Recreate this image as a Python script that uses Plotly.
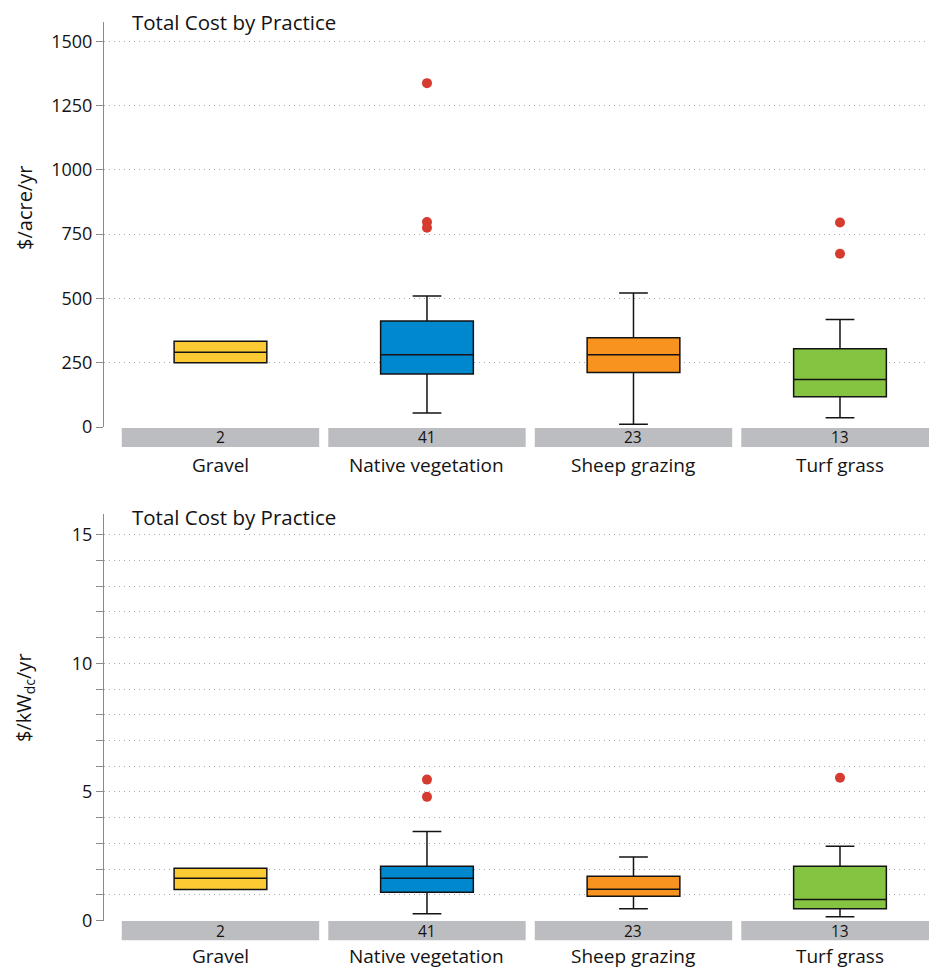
import plotly.graph_objects as go

# ---- data -------------------------------------------------------------
categories = ["Gravel", "Native vegetation", "Sheep grazing", "Turf grass"]
counts = [2, 41, 23, 13]
box_colors = ["#FCCB33", "#0088CE", "#F7931E", "#84C441"]

# $/acre/yr box statistics
acre_low = [250, 54, 11, 36]
acre_q1 = [250, 206, 212, 118]
acre_median = [291, 281, 281, 185]
acre_q3 = [333, 412, 347, 304]
acre_high = [333, 509, 521, 418]
acre_outlier_cat = ["Native vegetation", "Native vegetation", "Native vegetation", "Turf grass", "Turf grass"]
acre_outlier_val = [1337, 797, 775, 795, 674]

# $/kWdc/yr box statistics
kw_low = [1.21, 0.26, 0.46, 0.15]
kw_q1 = [1.21, 1.10, 0.94, 0.46]
kw_median = [1.64, 1.64, 1.22, 0.82]
kw_q3 = [2.03, 2.11, 1.72, 2.11]
kw_high = [2.03, 3.46, 2.47, 2.89]
kw_outlier_cat = ["Native vegetation", "Native vegetation", "Turf grass"]
kw_outlier_val = [5.48, 4.81, 5.55]

panel_titles = ["Total Cost by Practice", "Total Cost by Practice"]
y_titles = ["$/acre/yr", "$/kW<sub>dc</sub>/yr"]

# ---- styling ----------------------------------------------------------
FONT = "Open Sans"
INK = "#141213"
AXIS_GRAY = "#8a8a8a"
GRID_GRAY = "#a8a8a8"
BAND_GRAY = "#BCBDC0"
OUTLIER_RED = "#D63B2F"

W, H = 929, 970
PLOT_LEFT = 104


def py(pixel_from_top):
    """Paper y fraction for a pixel row counted from the top of the figure."""
    return 1 - pixel_from_top / H


top_domain = [py(427), py(21.7)]
bot_domain = [py(920.5), py(514.3)]

fig = go.Figure()


def add_panel(xa, ya, low, q1, med, q3, high, out_cat, out_val):
    for i, cat in enumerate(categories):
        fig.add_trace(go.Box(
            x=[cat], q1=[q1[i]], median=[med[i]], q3=[q3[i]],
            lowerfence=[low[i]], upperfence=[high[i]],
            fillcolor=box_colors[i], line=dict(color=INK, width=1.5),
            width=0.449, whiskerwidth=0.31, boxpoints=False,
            xaxis=xa, yaxis=ya, showlegend=False,
        ))
    fig.add_trace(go.Scatter(
        x=out_cat, y=out_val, mode="markers",
        marker=dict(color=OUTLIER_RED, size=10),
        xaxis=xa, yaxis=ya, showlegend=False,
    ))


add_panel("x", "y", acre_low, acre_q1, acre_median, acre_q3, acre_high,
          acre_outlier_cat, acre_outlier_val)
add_panel("x2", "y2", kw_low, kw_q1, kw_median, kw_q3, kw_high,
          kw_outlier_cat, kw_outlier_val)

xaxis_common = dict(
    type="category", categoryarray=categories, categoryorder="array",
    range=[-0.564, 3.431], showticklabels=False, showgrid=False,
    zeroline=False, showline=False, ticks="", domain=[0, 1],
)

yaxis_common = dict(
    showline=True, linecolor=AXIS_GRAY, linewidth=1,
    ticks="outside", ticklen=7, tickcolor=AXIS_GRAY, tickwidth=1,
    showgrid=True, gridcolor=GRID_GRAY, gridwidth=1, griddash="1px,4px",
    zeroline=False, tickfont=dict(family=FONT, size=18, color=INK),
    automargin=False,
)

fig.update_layout(
    width=W, height=H, autosize=False,
    margin=dict(l=PLOT_LEFT, r=0, t=0, b=0, pad=0),
    paper_bgcolor="white", plot_bgcolor="white",
    boxmode="overlay",
    xaxis=dict(**xaxis_common, anchor="y"),
    xaxis2=dict(**xaxis_common, anchor="y2"),
    yaxis=dict(**yaxis_common, domain=top_domain, anchor="x",
               range=[0, 1576], tickvals=[0, 250, 500, 750, 1000, 1250, 1500]),
    yaxis2=dict(**yaxis_common, domain=bot_domain, anchor="x2",
                range=[0, 15.8], tickvals=[0, 5, 10, 15],
                minor=dict(dtick=1, ticks="outside", ticklen=7, tickcolor=AXIS_GRAY,
                           showgrid=True, gridcolor=GRID_GRAY, gridwidth=1,
                           griddash="1px,4px")),
)

# category bands with sample counts, category names, panel and axis titles
shapes = []
annotations = []
panels = [
    # x axis, band bottom, band top, count row, name row, title row, y-title centre
    ("x", 447, 428, 437.5, 464.5, 22, 208),
    ("x2", 940.3, 921, 930.7, 955.5, 517, 698),
]
title_x = (130 - PLOT_LEFT) / (W - PLOT_LEFT)
ytitle_x = (24 - PLOT_LEFT) / (W - PLOT_LEFT)
for p, (xref, band_y0, band_y1, count_y, label_y, title_y, ytitle_y) in enumerate(panels):
    for i, cat in enumerate(categories):
        shapes.append(dict(
            type="rect", xref=xref, yref="paper",
            x0=i - 0.478, x1=i + 0.478, y0=py(band_y0), y1=py(band_y1),
            fillcolor=BAND_GRAY, line=dict(width=0), layer="below",
        ))
        annotations.append(dict(
            xref=xref, yref="paper", x=i, y=py(count_y), text=str(counts[i]),
            showarrow=False, xanchor="center", yanchor="middle",
            font=dict(family=FONT, size=15.5, color=INK),
        ))
        annotations.append(dict(
            xref=xref, yref="paper", x=i, y=py(label_y), text=cat,
            showarrow=False, xanchor="center", yanchor="middle",
            font=dict(family=FONT, size=19, color=INK),
        ))
    annotations.append(dict(
        xref="paper", yref="paper", x=title_x, y=py(title_y),
        text=panel_titles[p], showarrow=False,
        xanchor="left", yanchor="middle",
        font=dict(family=FONT, size=20.5, color=INK),
    ))
    annotations.append(dict(
        xref="paper", yref="paper", x=ytitle_x, y=py(ytitle_y),
        text=y_titles[p], showarrow=False, textangle=-90,
        xanchor="center", yanchor="middle",
        font=dict(family=FONT, size=20, color=INK),
    ))

fig.update_layout(shapes=shapes, annotations=annotations)

fig.write_html("out.html", config={"responsive": False})
